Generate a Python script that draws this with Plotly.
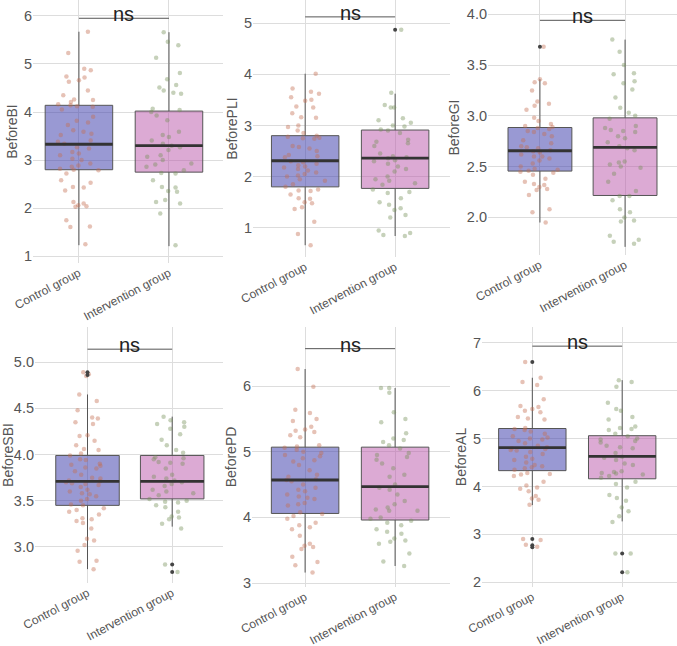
import plotly.graph_objects as go
from plotly.subplots import make_subplots

groups = ["Control group", "Intervention group"]
measures = ["BeforeBI", "BeforePLI", "BeforeGI", "BeforeSBI", "BeforePD", "BeforeAL"]

# box statistics per measure: [lower whisker, Q1, median, Q3, upper whisker]
control_stats = [
    [1.23, 2.80, 3.33, 4.14, 5.67],
    [0.66, 1.80, 2.31, 2.80, 4.01],
    [1.95, 2.456, 2.656, 2.885, 3.36],
    [2.76, 3.45, 3.71, 3.99, 4.65],
    [3.16, 4.06, 4.57, 5.07, 6.26],
    [3.61, 4.33, 4.81, 5.21, 6.27],
]
intervention_stats = [
    [1.21, 2.75, 3.30, 4.02, 5.66],
    [0.84, 1.77, 2.36, 2.91, 3.62],
    [1.71, 2.216, 2.69, 2.98, 3.75],
    [3.22, 3.52, 3.71, 3.99, 4.41],
    [3.26, 3.96, 4.47, 5.07, 5.97],
    [3.27, 4.16, 4.63, 5.06, 6.22],
]
control_outliers = [[], [], [3.68], [4.89, 4.86], [], [6.60, 2.90, 2.77, 2.73]]
intervention_outliers = [[], [4.87], [], [2.81, 2.73], [], [2.60, 2.21]]
bracket_y = [5.95, 5.12, 3.94, 5.14, 6.57, 6.93]
p_labels = ["ns", "ns", "ns", "ns", "ns", "ns"]

# individual observations (jittered points)
control_bi = [5.67, 5.23, 4.90, 4.87, 4.74, 4.72, 4.66, 4.63, 4.45, 4.35, 4.26, 4.25, 4.21, 4.16,
              4.14, 4.12, 4.11, 4.05, 3.90, 3.82, 3.78, 3.73, 3.62, 3.59, 3.55, 3.52, 3.41, 3.38,
              3.34, 3.27, 3.24, 3.17, 3.14, 3.10, 3.03, 3.00, 2.93, 2.89, 2.86, 2.82, 2.80, 2.79,
              2.72, 2.58, 2.53, 2.44, 2.43, 2.37, 2.13, 2.10, 2.06, 2.04, 2.03, 1.75, 1.62, 1.61, 1.25]
intervention_bi = [5.66, 5.46, 5.39, 5.13, 4.81, 4.68, 4.56, 4.51, 4.45, 4.40, 4.38, 4.07, 4.04,
                   4.00, 3.93, 3.83, 3.59, 3.52, 3.48, 3.41, 3.34, 3.30, 3.27, 3.21, 3.10, 3.07,
                   3.00, 2.93, 2.91, 2.86, 2.79, 2.73, 2.72, 2.58, 2.44, 2.43, 2.36, 2.34, 2.17,
                   2.13, 2.10, 1.89, 1.23]
control_pli = [4.01, 3.72, 3.66, 3.62, 3.55, 3.50, 3.48, 3.37, 3.35, 3.24, 3.16, 3.15, 3.00, 2.97,
               2.90, 2.85, 2.80, 2.78, 2.76, 2.75, 2.74, 2.60, 2.58, 2.55, 2.50, 2.42, 2.40, 2.38,
               2.30, 2.28, 2.25, 2.22, 2.20, 2.18, 2.15, 2.12, 2.08, 2.05, 2.02, 2.00, 1.95, 1.92,
               1.85, 1.80, 1.75, 1.73, 1.72, 1.65, 1.58, 1.57, 1.50, 1.48, 1.40, 1.37, 1.12, 0.88, 0.66]
intervention_pli = [4.87, 3.64, 3.40, 3.35, 3.35, 3.14, 3.10, 3.05, 3.00, 2.98, 2.92, 2.90, 2.85,
                    2.72, 2.68, 2.65, 2.60, 2.45, 2.40, 2.38, 2.36, 2.32, 2.30, 2.25, 2.20, 2.15,
                    2.10, 2.00, 1.95, 1.92, 1.87, 1.84, 1.75, 1.70, 1.68, 1.58, 1.50, 1.45, 1.38,
                    1.35, 1.25, 1.20, 0.95, 0.90, 0.86, 0.84]
control_gi = [3.68, 3.36, 3.33, 3.32, 3.25, 3.14, 3.12, 3.10, 3.06, 2.98, 2.95, 2.92, 2.90, 2.89,
              2.88, 2.87, 2.85, 2.84, 2.82, 2.80, 2.76, 2.73, 2.70, 2.69, 2.68, 2.66, 2.65, 2.64,
              2.62, 2.60, 2.60, 2.58, 2.56, 2.53, 2.50, 2.48, 2.47, 2.46, 2.45, 2.44, 2.42, 2.38,
              2.35, 2.33, 2.32, 2.30, 2.28, 2.27, 2.22, 2.08, 2.05, 1.95]
intervention_gi = [3.75, 3.63, 3.50, 3.42, 3.41, 3.34, 3.32, 3.26, 3.18, 3.08, 3.03, 3.00, 2.97,
                   2.90, 2.88, 2.86, 2.85, 2.84, 2.80, 2.78, 2.74, 2.70, 2.68, 2.66, 2.55, 2.54,
                   2.52, 2.50, 2.49, 2.43, 2.35, 2.26, 2.21, 2.21, 2.17, 2.08, 2.05, 2.00, 1.97,
                   1.96, 1.82, 1.78, 1.76, 1.74]
control_sbi = [4.89, 4.87, 4.85, 4.65, 4.58, 4.48, 4.40, 4.39, 4.35, 4.33, 4.21, 4.20, 4.15, 4.10,
               4.06, 4.05, 4.01, 3.99, 3.95, 3.94, 3.90, 3.89, 3.88, 3.86, 3.85, 3.82, 3.78, 3.75,
               3.74, 3.72, 3.71, 3.70, 3.69, 3.68, 3.67, 3.65, 3.62, 3.60, 3.58, 3.57, 3.55, 3.52,
               3.50, 3.46, 3.45, 3.42, 3.40, 3.38, 3.35, 3.31, 3.30, 3.28, 3.26, 3.20, 3.09, 3.07,
               3.02, 2.96, 2.85, 2.84, 2.76]
intervention_sbi = [4.41, 4.37, 4.35, 4.33, 4.30, 4.28, 4.22, 4.16, 4.10, 4.05, 4.02, 3.97, 3.96,
                    3.95, 3.92, 3.91, 3.90, 3.85, 3.78, 3.76, 3.74, 3.72, 3.70, 3.68, 3.66, 3.62,
                    3.60, 3.58, 3.56, 3.52, 3.50, 3.49, 3.48, 3.45, 3.43, 3.38, 3.33, 3.32, 3.30,
                    3.25, 3.20, 2.81, 2.73]
control_pd = [6.26, 5.99, 5.64, 5.59, 5.50, 5.47, 5.38, 5.34, 5.32, 5.30, 5.25, 5.22, 5.10, 5.08,
              5.06, 5.03, 5.00, 4.98, 4.95, 4.93, 4.90, 4.87, 4.85, 4.80, 4.72, 4.65, 4.62, 4.58,
              4.57, 4.55, 4.50, 4.45, 4.42, 4.40, 4.35, 4.32, 4.30, 4.28, 4.22, 4.20, 4.18, 4.08,
              4.05, 4.02, 3.98, 3.92, 3.88, 3.85, 3.82, 3.72, 3.60, 3.57, 3.55, 3.52, 3.40, 3.32,
              3.27, 3.16]
intervention_pd = [5.97, 5.97, 5.90, 5.60, 5.50, 5.45, 5.28, 5.20, 5.18, 5.15, 5.10, 5.05, 4.98,
                   4.95, 4.92, 4.88, 4.82, 4.75, 4.65, 4.62, 4.50, 4.45, 4.42, 4.35, 4.25, 4.20,
                   4.15, 4.12, 4.10, 4.10, 4.00, 3.98, 3.95, 3.92, 3.88, 3.82, 3.78, 3.75, 3.68,
                   3.65, 3.63, 3.60, 3.45, 3.33, 3.26]
control_al = [6.60, 6.27, 6.18, 6.12, 5.82, 5.68, 5.66, 5.62, 5.58, 5.55, 5.45, 5.42, 5.40, 5.22,
              5.20, 5.18, 5.15, 5.10, 5.05, 5.02, 5.00, 4.98, 4.95, 4.90, 4.85, 4.82, 4.80, 4.78,
              4.76, 4.75, 4.72, 4.68, 4.62, 4.58, 4.55, 4.50, 4.45, 4.42, 4.40, 4.38, 4.35, 4.28,
              4.26, 4.25, 4.22, 4.10, 4.02, 3.98, 3.95, 3.90, 3.80, 3.75, 3.72, 3.62, 2.90, 2.88,
              2.78, 2.74]
intervention_al = [6.22, 6.18, 6.08, 5.75, 5.62, 5.58, 5.45, 5.40, 5.25, 5.22, 5.20, 5.18, 5.10,
                   5.05, 5.00, 4.98, 4.95, 4.92, 4.85, 4.82, 4.80, 4.70, 4.62, 4.60, 4.55, 4.48,
                   4.45, 4.32, 4.30, 4.28, 4.27, 4.25, 4.22, 4.18, 4.10, 4.05, 3.98, 3.82, 3.76,
                   3.70, 3.56, 3.48, 3.38, 3.26, 2.60, 2.60, 2.21]

control_points = [control_bi, control_pli, control_gi, control_sbi, control_pd, control_al]
intervention_points = [intervention_bi, intervention_pli, intervention_gi,
                       intervention_sbi, intervention_pd, intervention_al]

# panel geometry (pixels measured on the 677 x 646 picture)
W, H = 677, 646
x_px = [(33, 223), (253, 450), (488, 677), (35, 223), (252, 450), (482, 677)]
y_px = [(0, 263), (0, 257), (0, 255), (327, 583), (327, 587), (327, 587)]
y_ranges = [[0.86, 6.33], [0.43, 5.45], [1.63, 4.14], [2.61, 5.38], [2.94, 6.90], [1.90, 7.33]]
x_ranges = [[-0.51, 1.60], [-0.58, 1.61], [-0.61, 1.61], [-0.62, 1.60], [-0.59, 1.61], [-0.56, 1.61]]
dticks = [1, 1, 0.5, 0.5, 1, 1]
tickfmts = ["d", "d", ".1f", ".1f", "d", "d"]

box_fill = ["rgba(60,60,170,0.52)", "rgba(185,85,169,0.5)"]
point_col = ["rgba(195,110,80,0.42)", "rgba(120,145,90,0.42)"]

fig = make_subplots(rows=2, cols=3)

for i in range(6):
    r, c = i // 3 + 1, i % 3 + 1
    stats_pair = [control_stats[i], intervention_stats[i]]
    pts_pair = [control_points[i], intervention_points[i]]
    out_pair = [control_outliers[i], intervention_outliers[i]]
    for g in range(2):
        lo, q1, med, q3, hi = stats_pair[g]
        fig.add_trace(go.Box(
            x=[groups[g]], q1=[q1], median=[med], q3=[q3],
            lowerfence=[lo], upperfence=[hi], boxpoints=False,
            width=0.75, whiskerwidth=0, fillcolor=box_fill[g],
            line=dict(color="#555555", width=1), showlegend=False,
        ), row=r, col=c)
        fig.add_trace(go.Box(
            x=[groups[g]] * len(pts_pair[g]), y=pts_pair[g], boxpoints="all",
            jitter=0.75, pointpos=0, width=0.75, whiskerwidth=0,
            fillcolor="rgba(0,0,0,0)", line=dict(color="rgba(0,0,0,0)", width=0),
            marker=dict(color=point_col[g], size=4.5), showlegend=False,
        ), row=r, col=c)
        fig.add_trace(go.Box(
            x=[groups[g]], q1=[med], median=[med], q3=[med],
            lowerfence=[med], upperfence=[med], boxpoints=False,
            width=0.75, whiskerwidth=0, fillcolor="rgba(0,0,0,0)",
            line=dict(color="#333333", width=2.8), showlegend=False,
        ), row=r, col=c)
        if out_pair[g]:
            fig.add_trace(go.Scatter(
                x=[groups[g]] * len(out_pair[g]), y=out_pair[g], mode="markers",
                marker=dict(color="#444444", size=4), showlegend=False,
            ), row=r, col=c)
    fig.add_trace(go.Scatter(
        x=groups, y=[bracket_y[i], bracket_y[i]], mode="lines",
        line=dict(color="#555555", width=1), showlegend=False,
    ), row=r, col=c)
    fig.add_annotation(
        x=0.5, y=bracket_y[i], text=p_labels[i], showarrow=False,
        xref=f"x{i + 1}", yref=f"y{i + 1}", yanchor="bottom", yshift=-9,
        font=dict(size=20, color="#222222"),
    )
    x0, x1 = x_px[i]
    y0, y1 = y_px[i]
    fig.update_xaxes(
        domain=[x0 / W, x1 / W], range=x_ranges[i], type="category",
        showgrid=True, gridcolor="#dddddd", gridwidth=1, zeroline=False,
        showline=False, ticks="", tickangle=-28, automargin=False,
        ticklabeloverflow="allow",
        tickfont=dict(size=12, color="#555555"), row=r, col=c,
    )
    fig.update_yaxes(
        domain=[1 - y1 / H, 1 - y0 / H], range=y_ranges[i], dtick=dticks[i],
        tickformat=tickfmts[i], showgrid=True, gridcolor="#dddddd", gridwidth=1,
        zeroline=False, showline=False, ticks="", automargin=False,
        ticklabeloverflow="allow",
        tickfont=dict(size=14.5, color="#555555"),
        title=dict(text=measures[i], font=dict(size=14, color="#555555"), standoff=3),
        row=r, col=c,
    )

fig.update_layout(
    width=W, height=H, margin=dict(l=0, r=0, t=0, b=0),
    paper_bgcolor="white", plot_bgcolor="white", boxmode="overlay",
    font=dict(family="Liberation Sans, Arial, sans-serif"),
)

# drop the default body margin so the figure fills the window exactly
fig.write_html("out.html", config={"displayModeBar": False},
               post_script="document.body.style.margin = '0';")
